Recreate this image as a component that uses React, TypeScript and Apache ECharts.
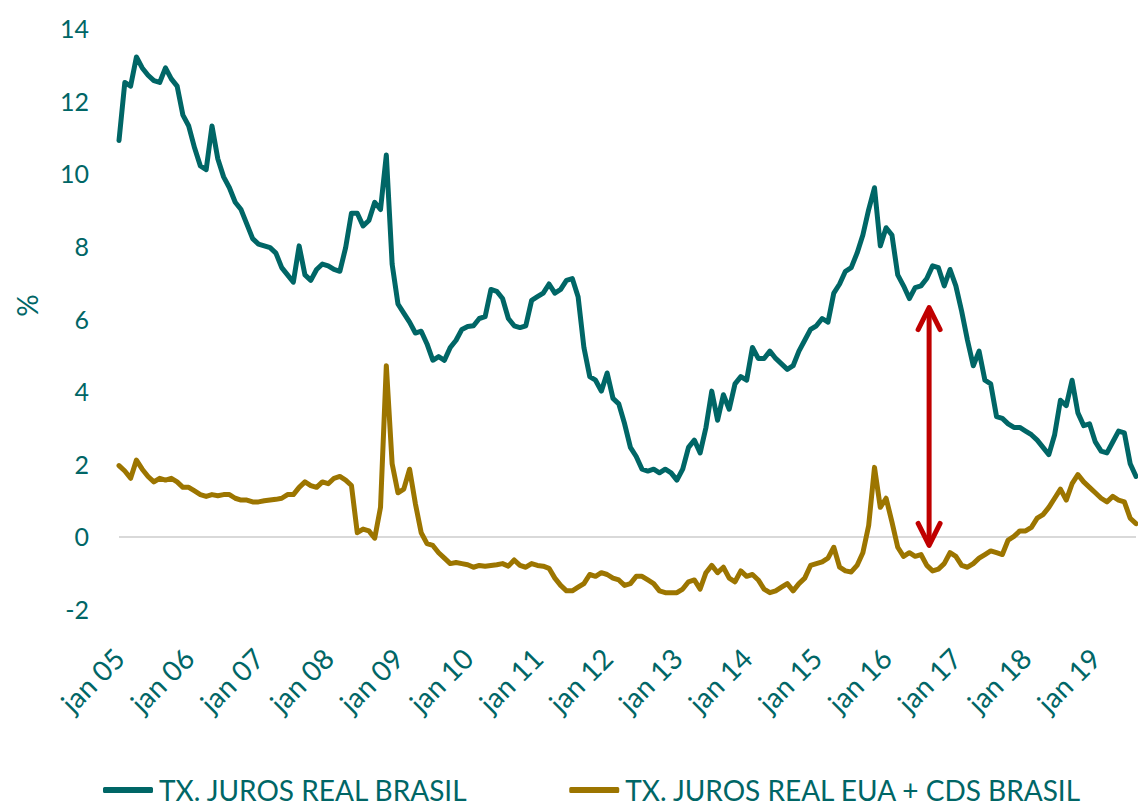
import React, { useEffect, useRef } from "react";
import * as echarts from "echarts";

// Category labels (Portuguese month abbreviations, two-digit years)
const MONTHS = ["jan", "fev", "mar", "abr", "mai", "jun", "jul", "ago", "set", "out", "nov", "dez"];
const YEARS = ["05", "06", "07", "08", "09", "10", "11", "12", "13", "14", "15", "16", "17", "18", "19"];
const LAST_MONTH_COUNT = 176; // jan 05 .. ago 19

// TX. JUROS REAL BRASIL (%), monthly readings
const realBrasil = [
  10.9, 12.5, 12.4, 13.2, 12.9, 12.7, 12.55, 12.5, 12.9, 12.6, 12.4, 11.6,
  11.3, 10.7, 10.2, 10.1, 11.3, 10.4, 9.9, 9.6, 9.2, 9.0, 8.6, 8.2,
  8.05, 8.0, 7.95, 7.8, 7.4, 7.2, 7.0, 8.0, 7.2, 7.05, 7.35, 7.5,
  7.45, 7.35, 7.3, 7.95, 8.9, 8.9, 8.55, 8.7, 9.2, 9.0, 10.5, 7.5,
  6.4, 6.15, 5.9, 5.6, 5.65, 5.3, 4.85, 4.95, 4.85, 5.2, 5.4, 5.7,
  5.78, 5.8, 6.0, 6.05, 6.8, 6.75, 6.55, 6.0, 5.8, 5.75, 5.8, 6.5,
  6.6, 6.7, 6.95, 6.7, 6.8, 7.05, 7.1, 6.6, 5.2, 4.4, 4.3, 4.0,
  4.5, 3.8, 3.65, 3.1, 2.45, 2.2, 1.85, 1.8, 1.85, 1.75, 1.85, 1.75,
  1.55, 1.85, 2.45, 2.65, 2.3, 3.0, 4.0, 3.2, 3.9, 3.5, 4.2, 4.4,
  4.3, 5.2, 4.9, 4.9, 5.1, 4.9, 4.75, 4.6, 4.7, 5.1, 5.4, 5.7,
  5.8, 6.0, 5.9, 6.7, 6.95, 7.3, 7.4, 7.8, 8.3, 9.0, 9.6, 8.0,
  8.5, 8.3, 7.2, 6.9, 6.55, 6.85, 6.9, 7.1, 7.45, 7.4, 6.9, 7.35,
  6.9, 6.2, 5.4, 4.7, 5.1, 4.3, 4.2, 3.3, 3.25, 3.1, 3.0, 3.0,
  2.9, 2.8, 2.65, 2.45, 2.25, 2.8, 3.75, 3.6, 4.3, 3.4, 3.05, 3.1,
  2.6, 2.35, 2.3, 2.6, 2.9, 2.85, 2.0, 1.65,
];

// TX. JUROS REAL EUA + CDS BRASIL (%), monthly readings
const realEuaCds = [
  1.95, 1.8, 1.6, 2.1, 1.85, 1.65, 1.5, 1.6, 1.55, 1.6, 1.5, 1.35,
  1.35, 1.25, 1.15, 1.1, 1.15, 1.12, 1.15, 1.15, 1.05, 1.0, 1.0, 0.95,
  0.95, 0.98, 1.0, 1.02, 1.05, 1.15, 1.15, 1.35, 1.5, 1.4, 1.35, 1.5,
  1.45, 1.6, 1.65, 1.55, 1.4, 0.1, 0.2, 0.15, -0.05, 0.8, 4.7, 2.0,
  1.2, 1.3, 1.85, 0.9, 0.1, -0.2, -0.25, -0.45, -0.6, -0.75, -0.72, -0.75,
  -0.78, -0.85, -0.8, -0.82, -0.8, -0.78, -0.75, -0.82, -0.65, -0.8, -0.85, -0.75,
  -0.8, -0.82, -0.88, -1.15, -1.35, -1.5, -1.5, -1.4, -1.3, -1.05, -1.1, -1.0,
  -1.05, -1.15, -1.2, -1.35, -1.3, -1.1, -1.1, -1.2, -1.3, -1.5, -1.55, -1.55,
  -1.55, -1.45, -1.25, -1.2, -1.45, -1.0, -0.8, -1.0, -0.85, -1.15, -1.25, -0.95,
  -1.1, -1.05, -1.2, -1.45, -1.55, -1.5, -1.4, -1.3, -1.5, -1.3, -1.15, -0.8,
  -0.75, -0.7, -0.6, -0.3, -0.85, -0.95, -0.98, -0.8, -0.45, 0.3, 1.9, 0.8,
  1.05, 0.4, -0.3, -0.55, -0.45, -0.55, -0.5, -0.8, -0.95, -0.9, -0.75, -0.45,
  -0.55, -0.8, -0.85, -0.75, -0.6, -0.5, -0.4, -0.45, -0.5, -0.1, 0.0, 0.15,
  0.15, 0.25, 0.5, 0.6, 0.8, 1.05, 1.3, 1.0, 1.45, 1.7, 1.5, 1.35,
  1.2, 1.05, 0.95, 1.1, 1.0, 0.95, 0.5, 0.35,
];

// Y axis
const Y_MIN = -2;
const Y_MAX = 14;
const Y_STEP = 2;

// Gap annotation (double arrow): month index, fraction toward next month, top value, bottom value
const gapArrow = [139, 0.4, 6.3, -0.25];

const SERIES_NAMES = ["TX. JUROS REAL BRASIL", "TX. JUROS REAL EUA + CDS BRASIL"];

const TEAL = "#006666";
const GOLD = "#9c7500";
const RED = "#c00000";
const FONT = "Lato, 'Open Sans', sans-serif";

const categories: string[] = [];
YEARS.forEach((y) => MONTHS.forEach((m) => categories.push(`${m} ${y}`)));
const cats = categories.slice(0, LAST_MONTH_COUNT);

export default function App() {
  const ref = useRef<HTMLDivElement>(null);

  useEffect(() => {
    if (!ref.current) return;
    const chart = echarts.init(ref.current, null, { renderer: "svg" });

    const nLines = Math.round((Y_MAX - Y_MIN) / Y_STEP) + 1;
    const splitColors: string[] = [];
    for (let i = 0; i < nLines; i++) {
      splitColors.push(Y_MIN + i * Y_STEP === 0 ? "#d9d9d9" : "rgba(0,0,0,0)");
    }

    chart.setOption({
      animation: false,
      backgroundColor: "#ffffff",
      textStyle: { fontFamily: FONT },
      grid: { left: 119, right: 2, top: 28, bottom: 200, containLabel: false },
      legend: {
        data: SERIES_NAMES,
        left: 98,
        top: 771,
        icon: "roundRect",
        itemWidth: 50,
        itemHeight: 6,
        itemGap: 101,
        textStyle: { color: TEAL, fontSize: 28, lineHeight: 28, fontFamily: FONT, padding: [0, 0, 0, 1] },
      },
      xAxis: {
        type: "category",
        data: cats,
        boundaryGap: false,
        axisLine: { show: false },
        axisTick: { show: false },
        splitLine: { show: false },
        axisLabel: {
          interval: (idx: number) => idx % 12 === 0,
          rotate: 45,
          color: TEAL,
          fontSize: 28,
          fontFamily: FONT,
          margin: 44,
        },
      },
      yAxis: {
        type: "value",
        min: Y_MIN,
        max: Y_MAX,
        interval: Y_STEP,
        name: "%",
        nameLocation: "middle",
        nameRotate: 90,
        nameGap: 78,
        nameTextStyle: { color: TEAL, fontSize: 28, fontFamily: FONT, padding: [0, 0, 0, 26] },
        axisLine: { show: false },
        axisTick: { show: false },
        axisLabel: { color: TEAL, fontSize: 25, fontFamily: FONT, margin: 30 },
        splitLine: { show: true, lineStyle: { color: splitColors, width: 2 } },
      },
      series: [
        {
          name: SERIES_NAMES[0],
          type: "line",
          data: realBrasil,
          showSymbol: false,
          symbol: "none",
          lineStyle: { color: TEAL, width: 5, cap: "round", join: "round" },
          itemStyle: { color: TEAL },
          z: 3,
        },
        {
          name: SERIES_NAMES[1],
          type: "line",
          data: realEuaCds,
          showSymbol: false,
          symbol: "none",
          lineStyle: { color: GOLD, width: 5, cap: "round", join: "round" },
          itemStyle: { color: GOLD },
          z: 3,
        },
        {
          name: "gap",
          type: "custom",
          data: [gapArrow],
          z: 5,
          silent: true,
          renderItem: (params: any, api: any) => {
            const idx = api.value(0);
            const frac = api.value(1);
            const topV = api.value(2);
            const botV = api.value(3);
            const a = api.coord([idx, topV]);
            const b = api.coord([idx + 1, topV]);
            const c = api.coord([idx, botV]);
            const x = a[0] + frac * (b[0] - a[0]);
            const yTop = a[1];
            const yBot = c[1];
            const hw = 11;
            const hh = 22;
            const style = {
              stroke: RED,
              lineWidth: 5,
              lineCap: "round",
              lineJoin: "round",
              fill: "none",
            };
            return {
              type: "group",
              children: [
                { type: "line", shape: { x1: x, y1: yTop + 2, x2: x, y2: yBot - 2 }, style },
                {
                  type: "polyline",
                  shape: { points: [[x - hw, yTop + hh], [x, yTop], [x + hw, yTop + hh]] },
                  style,
                },
                {
                  type: "polyline",
                  shape: { points: [[x - hw, yBot - hh], [x, yBot], [x + hw, yBot - hh]] },
                  style,
                },
              ],
            };
          },
        },
      ],
    });

    return () => chart.dispose();
  }, []);

  return (
    <div
      ref={ref}
      style={{ position: "absolute", left: 0, top: 0, width: 1138, height: 809, background: "#fff" }}
    />
  );
}
